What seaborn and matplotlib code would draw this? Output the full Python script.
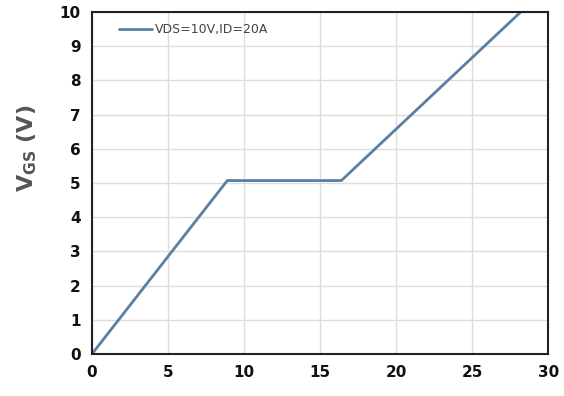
import matplotlib
matplotlib.use("Agg")
import matplotlib.pyplot as plt
import seaborn as sns
import pandas as pd

qg = [0, 8.9, 16.4, 28.2]
vgs = [0, 5.07, 5.07, 10.0]
series_label = "VDS=10V,ID=20A"
xticks = [0, 5, 10, 15, 20, 25, 30]
yticks = list(range(0, 11))

sns.set_theme(style="whitegrid")
plt.rcParams['font.family'] = ['DejaVu Sans']

df = pd.DataFrame({"Qg": qg, "Vgs": vgs, "series": series_label})

fig = plt.figure(figsize=(5.64, 3.96), dpi=100)
ax = fig.add_axes([0.163, 0.106, 0.809, 0.864])
sns.lineplot(data=df, x="Qg", y="Vgs", hue="series", palette=["#5b7fa3"],
             linewidth=2, ax=ax, sort=False)
ax.set_xlim(0, 30)
ax.set_ylim(0, 10)
ax.set_xticks(xticks)
ax.set_yticks(yticks)
ax.grid(True, color="#dddddd", linewidth=1)
for s in ax.spines.values():
    s.set_visible(True)
    s.set_color("#222222")
    s.set_linewidth(1.5)
ax.tick_params(axis="both", labelsize=11, colors="#111111", length=0, pad=8)
for lbl in ax.get_xticklabels() + ax.get_yticklabels():
    lbl.set_fontweight("bold")
ax.set_xlabel("")
ax.set_ylabel(r"V$_{\mathregular{GS}}$ (V)", fontsize=16, color="#555555",
              fontweight="bold")
ax.yaxis.set_label_coords(-0.115, 0.6)
leg = ax.legend(loc="upper left", frameon=False, fontsize=9, handlelength=2.6,
                handletextpad=0.3, bbox_to_anchor=(0.035, 1.0))
for t in leg.get_texts():
    t.set_color("#444444")
fig.savefig("out.png", dpi=100)
